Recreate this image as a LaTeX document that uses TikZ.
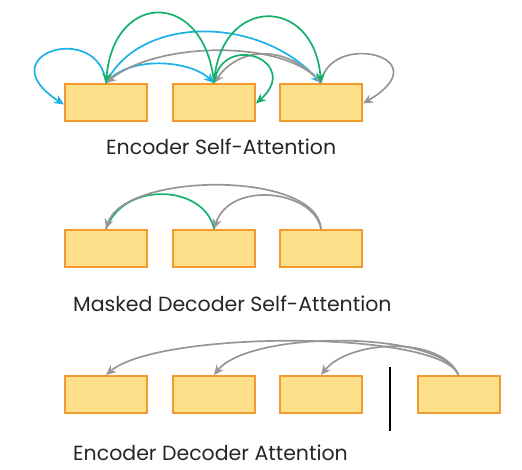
\documentclass[tikz,border=0pt]{standalone}
\usepackage{fontspec}
\setmainfont{Poppins}
\usetikzlibrary{arrows.meta}
\definecolor{boxfill}{HTML}{FFE08A}
\definecolor{boxline}{HTML}{F29A2E}
\definecolor{cblue}{HTML}{1BB1E6}
\definecolor{cgreen}{HTML}{14B06C}
\definecolor{cgray}{HTML}{969696}
\tikzset{
  cell/.style={draw=boxline, fill=boxfill, line width=2pt, minimum width=82pt, minimum height=37pt, inner sep=0pt},
  conn/.style={line width=1.7pt, -{Stealth[length=10pt,width=9pt]}},
  plain/.style={line width=1.7pt},
  lbl/.style={anchor=base west, inner sep=0pt, font=\fontsize{20.5}{24}\selectfont, text=black!85}
}
\begin{document}
\begin{tikzpicture}[x=1pt,y=-1pt]
\useasboundingbox (0,0) rectangle (522,470);
% top row
\node[cell] (a1) at (106,102.5) {};
\node[cell] (a2) at (214,102.5) {};
\node[cell] (a3) at (321,102.5) {};
% middle row
\node[cell] (m1) at (106,248.5) {};
\node[cell] (m2) at (214,248.5) {};
\node[cell] (m3) at (321,248.5) {};
% bottom row
\node[cell] (b1) at (106,394.5) {};
\node[cell] (b2) at (214,394.5) {};
\node[cell] (b3) at (321,394.5) {};
\node[cell] (b4) at (458.5,394.5) {};
\coordinate (s1) at (390,367);
\coordinate (s2) at (390,431);
\draw[line width=1.8pt] (s1) -- (s2);
% labels
\node[lbl] (l1) at (106,155) {Encoder Self-Attention};
\node[lbl] (l2) at (73,312) {Masked Decoder Self-Attention};
\node[lbl] (l3) at (73,460) {Encoder Decoder Attention};
% top row arrows
\draw[conn,cblue] (a1.north) .. controls +(-7,-63) and +(-78,-50) .. ([yshift=-2pt]a1.west);
\draw[conn,cblue] (a1.north) .. controls +(23,-28) and +(-24,-23) .. (a2.north);
\draw[conn,cblue] (a1.north) .. controls +(33,-68) and +(-62,-68) .. (a3.north);
\draw[conn,cgray] (a3.north) .. controls +(-32,-43) and +(53,-43) .. (a1.north);
\draw[conn,cgray] (a3.north) .. controls +(-32,-38) and +(26,-38) .. (a2.north);
\draw[conn,cgray] (a3.north) .. controls +(8,-53) and +(80,-47) .. ([yshift=-1pt]a3.east);
\draw[conn,cgreen] (a2.north) .. controls +(-9,-93) and +(8,-93) .. (a1.north);
\draw[conn,cgreen] (a2.north) .. controls +(6,-88) and +(-7,-88) .. (a3.north);
\draw[conn,cgreen] (a2.north) .. controls +(8,-53) and +(47,-42) .. ([yshift=-1pt]a2.east);
% middle row arrows
\draw[plain,cgreen] (m2.north) .. controls +(-9,-44) and +(18,-49) .. (m1.north);
\draw[conn,cgray] (m3.north) .. controls +(-4,-59) and +(18,-57) .. (m1.north);
\draw[conn,cgray] (m3.north) .. controls +(-7,-39) and +(16,-49) .. (m2.north);
% bottom row arrows
\draw[conn,cgray] (b4.north) .. controls +(-18,-45) and +(53,-45) .. (b1.north);
\draw[conn,cgray] (b4.north) .. controls +(-18,-45) and +(36,-45) .. (b2.north);
\draw[conn,cgray] (b4.north) .. controls +(-18,-40) and +(28,-35) .. (b3.north);
\end{tikzpicture}
\end{document}
